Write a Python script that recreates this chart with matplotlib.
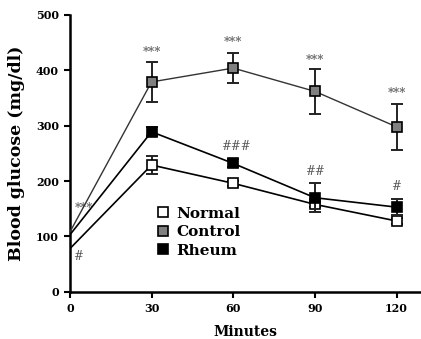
import numpy as np
import matplotlib
matplotlib.use('Agg')
import matplotlib.pyplot as plt
from matplotlib.lines import Line2D

minutes = [0, 30, 60, 90, 120]
normal = [78, 229, 196, 158, 128]
normal_err = [0, 16, 5, 5, 5]
control = [108, 379, 404, 362, 298]
control_err = [0, 36, 27, 41, 42]
rheum = [103, 289, 232, 170, 153]
rheum_err = [0, 8, 7, 26, 14]

# significance marks: (x, y, text)
marks_ctrl = [(5, 151, '***'), (30, 433, '***'), (60, 450, '***'), (90, 418, '***'), (120, 358, '***')]
marks_rheum = [(3, 63, '#'), (61, 263, '###'), (90, 217, '##'), (120, 190, '#')]

plt.rcParams['font.family'] = 'DejaVu Serif'
plt.rcParams['font.weight'] = 'bold'

fig = plt.figure(figsize=(4.21, 3.39), dpi=100)
ax = fig.add_axes([0.166, 0.139, 0.834, 0.817])

series = [
    ('Normal', normal, normal_err, 'white', 'black', 1.2, 3),
    ('Control', control, control_err, '#808080', '#333333', 1.0, 4),
    ('Rheum', rheum, rheum_err, 'black', 'black', 1.2, 5),
]
handles = []
for name, vals, err, fc, lc, lw, z in series:
    ax.plot(minutes, vals, color=lc, lw=lw, marker='s', ms=7.5, mfc=fc, mec='black', mew=1.2,
            markevery=slice(1, None), zorder=z)
    ax.errorbar(minutes[1:], vals[1:], yerr=err[1:], fmt='none', ecolor='#222222',
                capsize=4, elinewidth=1.4, capthick=1.4, zorder=z - 0.5)
    handles.append(Line2D([], [], ls='none', marker='s', ms=7.5, mfc=fc, mec='black',
                          mew=1.2, label=name))

for x, y, t in marks_ctrl:
    ax.text(x, y, t, ha='center', va='center', fontsize=8.5, color='#666666')
for x, y, t in marks_rheum:
    ax.text(x, y, t, ha='center', va='center', fontsize=8.5, color='#555555', fontweight='normal')

ax.set_xlim(0, 129)
ax.set_ylim(0, 500)
ax.set_xticks([0, 30, 60, 90, 120])
ax.set_yticks([0, 100, 200, 300, 400, 500])
ax.spines['top'].set_visible(False)
ax.spines['right'].set_visible(False)
ax.spines['left'].set_linewidth(1.8)
ax.spines['bottom'].set_linewidth(1.8)
ax.tick_params(width=1.5, length=4, labelsize=8, pad=4)
ax.set_xlabel('Minutes', fontsize=10, fontweight='bold', labelpad=8)
ax.set_ylabel('Blood glucose (mg/dl)', fontsize=12.5, fontweight='bold', labelpad=8)

leg = ax.legend(handles=handles, loc='upper left', bbox_to_anchor=(0.23, 0.33), frameon=False,
                handlelength=0.8, handletextpad=0.5, labelspacing=0.3,
                borderaxespad=0, prop={'weight': 'bold', 'size': 11})

fig.savefig('out.png', dpi=100)
